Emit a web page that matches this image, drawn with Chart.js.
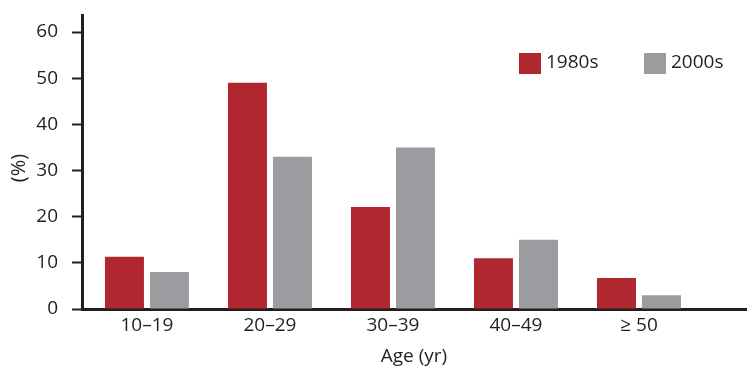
<!DOCTYPE html>
<html>
<head>
<meta charset="utf-8">
<script src="https://cdn.jsdelivr.net/npm/chart.js@4/dist/chart.umd.min.js"></script>
<style>
html,body{margin:0;padding:0;background:#fff;}
#wrap{width:756px;height:379px;}
</style>
</head>
<body>
<div id="wrap"><canvas id="c" width="756" height="379"></canvas></div>
<script>
const categories = ['10–19', '20–29', '30–39', '40–49', '≥ 50'];
const series1980s = [11.3, 49, 22.1, 11, 6.7];
const series2000s = [8, 33, 35, 15, 3];
const yTicks = [0, 10, 20, 30, 40, 50, 60];
const seriesNames = ['1980s', '2000s'];
const xTitle = 'Age (yr)';
const yTitle = '(%)';

const RED = '#b1272f';
const GRAY = '#9b9ca0';
const INK = '#231f20';
const FONT = "'Open Sans', sans-serif";
const FS = 19;

const extras = {
  id: 'extras',
  afterDraw(chart) {
    const ctx = chart.ctx;
    ctx.save();
    ctx.fillStyle = INK;
    ctx.font = '20px ' + FONT;
    ctx.textAlign = 'center';
    ctx.textBaseline = 'middle';
    ctx.translate(19, 168);
    ctx.rotate(-Math.PI / 2);
    ctx.fillText(yTitle, 0, 0);
    ctx.restore();
    ctx.save();
    ctx.font = FS + 'px ' + FONT;
    ctx.textBaseline = 'middle';
    ctx.textAlign = 'left';
    chart.data.datasets.forEach((d, i) => {
      const x = i === 0 ? 519 : 644;
      ctx.fillStyle = d.backgroundColor;
      ctx.fillRect(x, 53, 22, 21);
      ctx.fillStyle = INK;
      ctx.fillText(d.label, x + 27, 63);
    });
    ctx.restore();
  }
};

new Chart(document.getElementById('c'), {
  type: 'bar',
  data: {
    datasets: [
      {label: seriesNames[0], data: series1980s.map((v, i) => ({x: i, y: v})), backgroundColor: RED},
      {label: seriesNames[1], data: series2000s.map((v, i) => ({x: i, y: v})), backgroundColor: GRAY}
    ]
  },
  options: {
    responsive: false,
    animation: false,
    categoryPercentage: 90 / 123,
    barPercentage: 39 / 45,
    layout: {padding: {top: 15, right: 10, left: 0, bottom: 0}},
    plugins: {legend: {display: false}, tooltip: {enabled: false}},
    scales: {
      x: {
        type: 'linear',
        offset: false,
        min: -0.528,
        max: 4.870,
        z: 1,
        afterBuildTicks(scale) { scale.ticks = categories.map((c, i) => ({value: i})); },
        afterFit(scale) { scale.height = 70; scale.paddingLeft = 0; scale.paddingRight = 0; },
        grid: {offset: false, drawOnChartArea: false, drawTicks: false},
        border: {display: true, color: INK, width: 3},
        ticks: {
          padding: 5,
          color: INK,
          font: {family: FONT, size: FS},
          callback: (v) => categories[v],
          maxRotation: 0,
          autoSkip: false
        },
        title: {display: true, text: xTitle, color: INK, font: {family: FONT, size: FS}, padding: {top: 0, bottom: 11}}
      },
      y: {
        min: 0,
        max: 63.7,
        z: 1,
        afterBuildTicks(scale) { scale.ticks = yTicks.map(v => ({value: v})); },
        afterFit(scale) { scale.width = 82; scale.paddingTop = 0; scale.paddingBottom = 0; },
        grid: {drawOnChartArea: false, drawTicks: true, tickLength: 10, tickWidth: 2, tickColor: INK},
        border: {display: true, color: INK, width: 3},
        ticks: {padding: 14, color: INK, font: {family: FONT, size: FS}}
      }
    }
  },
  plugins: [extras]
});
</script>
</body>
</html>
